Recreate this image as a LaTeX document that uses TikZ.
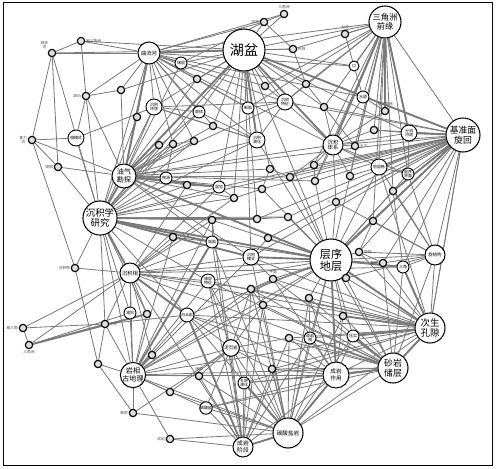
\documentclass[tikz,border=0pt]{standalone}
\usepackage{fontspec}
\setmainfont{Noto Sans CJK SC}
\usepackage{tikz}
\usetikzlibrary{positioning,backgrounds}

\tikzset{
  link/.style={draw=black!52, line width=0.7pt},
  blink/.style={draw=black!52, line width=1.6pt},
  hub/.style={circle, draw=black, fill=white, line width=0.9pt, inner sep=0pt, align=center},
  midnode/.style={circle, draw=black, fill=white, line width=0.8pt, inner sep=0pt, align=center,
    font=\fontsize{3.4}{3.8}\selectfont},
  dot/.style={circle, draw=black, fill=black!12, line width=1pt, inner sep=0pt, minimum size=0.22cm},
  lbl/.style={font=\fontsize{3.2}{3.6}\selectfont, inner sep=0.5pt, align=center, text=black!70}
}

\begin{document}
\begin{tikzpicture}[x=0.03cm, y=-0.03cm]
    \useasboundingbox (0,0) rectangle (496,469);
    \draw[line width=0.7pt] (3,2) rectangle (492,465);

    % large nodes
    \node[hub, minimum size=1.26cm, font=\fontsize{12}{13}\selectfont] (hp) at (244,50) {湖盆};
    \node[hub, minimum size=0.96cm, font=\fontsize{7}{8}\selectfont] (sjz) at (385,22) {三角洲\\前缘};
    \node[hub, minimum size=1.02cm, font=\fontsize{7.5}{8.5}\selectfont] (jzm) at (463,135) {基准面\\旋回};
    \node[hub, minimum size=1.02cm, font=\fontsize{8}{9}\selectfont] (cjx) at (100,218) {沉积学\\研究};
    \node[hub, minimum size=1.26cm, font=\fontsize{9.5}{10.5}\selectfont] (cxdc) at (331,260) {层序\\地层};
    \node[hub, minimum size=0.9cm, font=\fontsize{8}{9}\selectfont] (csks) at (430,328) {次生\\孔隙};
    \node[hub, minimum size=0.9cm, font=\fontsize{7.5}{8.5}\selectfont] (syc) at (393,368) {砂岩\\储层};
    \node[hub, minimum size=0.9cm, font=\fontsize{4.8}{5.5}\selectfont] (tsy) at (288,433) {碳酸盐岩};
    \node[hub, minimum size=0.78cm, font=\fontsize{4.8}{5.5}\selectfont] (cyzy) at (336,375) {成岩\\作用};
    \node[hub, minimum size=0.6cm, font=\fontsize{5}{5.6}\selectfont] (cyjd) at (243,447) {成岩\\阶段};
    \node[hub, minimum size=0.72cm, font=\fontsize{6}{6.8}\selectfont] (yqkt) at (124,176) {油气\\勘探};
    \node[hub, minimum size=0.66cm, font=\fontsize{4.5}{5}\selectfont] (qlh) at (149,53) {曲流河};
    \node[hub, minimum size=0.66cm, font=\fontsize{6}{6.4}\selectfont] (yxgd) at (133,375) {岩相\\古地理};
    \node[hub, minimum size=0.6cm, font=\fontsize{4.5}{5}\selectfont] (cjxg) at (130,273) {沉积相};
    \node[hub, minimum size=0.6cm, font=\fontsize{3.8}{4.2}\selectfont] (xjg) at (435,255) {旋结构};
    \node[hub, minimum size=0.6cm, font=\fontsize{4.5}{5}\selectfont] (cjtx) at (333,145) {沉积\\体系};
    \node[hub, minimum size=0.5cm, font=\fontsize{3.8}{4.2}\selectfont] (nyy) at (231,348) {泥页岩};

    % middle nodes
    \foreach \n/\x/\y/\r/\txt in {m1/154/107/8/{沉积\\环境}, m2/76/138/8/{相模式}, m3/285/102/8/{沉积\\特征},
        m4/257/140/8/{沉积\\演化}, m5/409/133/8/{分流\\河道}, m6/379/167/8/{地层格}, m7/251/257/8/{沉积\\模式},
        m8/208/281/7/{储层\\特征}, m9/187/315/7/{白云岩}, m10/181/63/6/{储层}, m11/199/112/6/{扇体},
        m12/248/108/6/{断陷}, m13/219/187/6/{盆地}, m14/212/242/6/{坳陷}, m15/166/178/6/{物源},
        m16/408/174/6/{层序\\界面}, m17/403/267/6/{三角}, m18/244/383/6/{孔隙\\演化}, m19/206/408/6/{碳酸盐},
        m20/310/338/6/{成岩\\相}, m21/354/66/5/{口}, m22/363/97/6/{水道}, m23/353/336/6/{压实}, m24/130/313/6/{滩坝}}
        \node[midnode, minimum size=\r*0.06cm] (\n) at (\x,\y) {\txt};

    % small nodes
    \foreach \n/\x/\y/\pos/\txt in {p1/81/41/right/{扇三角洲}, p2/52/53/above left/{辫状\\河}, p3/86/96/left/{湖泊},
        p4/121/90/right/{}, p5/137/117/right/{}, p6/32/140/left/{重力\\流}, p7/159/145/right/{},
        p8/284/14/above/{三角洲}, p9/264/22/left/{河流}, p10/293/49/right/{砂体}, p11/197/79/right/{},
        p12/265/86/right/{}, p13/306/84/right/{}, p14/324/107/right/{}, p15/213/126/right/{},
        p16/194/141/right/{}, p17/173/144/right/{}, p18/345/34/above/{分流}, p19/385/111/above/{前三角洲},
        p20/374/130/right/{}, p21/355/146/right/{水下}, p22/58/167/left/{湖相}, p23/187/185/right/{},
        p24/234/198/right/{}, p25/262/189/right/{}, p26/270/169/right/{}, p27/290/177/right/{},
        p28/314/165/right/{}, p29/315/181/right/{}, p30/212/220/right/{}, p31/257/219/right/{},
        p32/288/217/right/{}, p33/173/237/right/{}, p34/268/238/right/{}, p35/273/279/above/{平面},
        p36/251/289/right/{}, p37/309/298/right/{}, p38/263/305/right/{}, p39/350/176/right/{},
        p40/393/191/right/{}, p41/336/202/left/{三}, p42/373/221/right/{}, p43/359/252/right/{旋回},
        p44/383/263/left/{准层}, p45/346/278/right/{}, p46/75/268/left/{沉积物}, p47/23/328/left/{扇三角},
        p48/29/345/below/{三角洲}, p49/105/324/right/{沉积}, p50/147/314/right/{}, p51/98/364/left/{},
        p52/152/355/right/{}, p53/133/413/left/{致密}, p54/170/439/left/{成岩}, p55/170/392/right/{},
        p56/289/338/right/{}, p57/199/376/above/{储层}, p58/272/369/right/{}, p59/343/316/right/{}}
        \node[dot, label={[lbl]\pos:\txt}] (\n) at (\x,\y) {};

    \begin{pgfonlayer}{background}
        % links of the large nodes
        \foreach \h/\lst in {
            hp/{qlh,p9,p8,p10,m10,p11,p12,m3,m12,m11,m4,p15,cjtx,m5,sjz,yqkt,cjx,p26,m13,p24,cxdc,m7,p31,p1,p2,m1,p4,m21,p13,p14},
            sjz/{p18,m21,m22,p19,p20,m5,p14,p13,m3,p21,p39,m6,p40,p28,m16,jzm,p10,m12,qlh,p12,p29,cxdc,p42},
            jzm/{m5,m16,m6,p40,p42,p43,p44,m17,cjtx,p28,p29,m3,p14,p20,p41,hp,p27,m13,yqkt,p25,p31,m7,p34,p32,csks},
            cjx/{p22,p46,m2,p7,m15,p23,m13,p24,p30,m14,p33,m7,p31,p32,jzm,m4,p16,p17,m1,m11,p5,p3,yxgd,m24,p49,p50,m9,p2,qlh,m8},
            cxdc/{p43,p44,p45,m17,xjg,p41,p42,m6,p40,m16,p37,p35,p38,m20,cyzy,syc,m7,p34,m14,p32,p29,m8,p36,p59,m23,tsy,m9,yxgd,p30,cjxg,m4,p25,p27},
            csks/{xjg,m17,p44,p43,cyzy,m20,p45,p37,p56,m18,p58,tsy,m8,p36,m7,m9,yxgd,jzm,m6,p38,p35,cjxg},
            syc/{m23,p59,m20,tsy,p56,m18,p58,m17,xjg,p45,p37,m8,p38,m9,yxgd,p36,p44,cjxg,m19,p35},
            tsy/{m18,m19,p57,p58,m20,cyzy,m9,nyy,p55,yxgd,p38,p36,m8,p56,m23,p59,m14,m7,p37,p53,p54},
            cyzy/{m20,p56,p58,m18,m23,p59,cyjd,m19,nyy,p37,m9,yxgd,p35},
            cyjd/{m18,nyy,m19,p54,p57,m9,m8,p36,p38,p56,m20,p58,cjxg,m14,p30},
            yqkt/{p22,m15,p23,p7,m1,p5,p4,qlh,m11,m10,p11,m4,p15,p16,p17,m13,p24,m14,m7,p26,p25,p27,cjtx,p29,m3,p3,p6},
            qlh/{p1,p2,p4,m10,p11,m1,p5,p3,m11,m12,p12,p9,p8,p10,m3,p15,m4,cjtx,m21,p16,p17,m22},
            yxgd/{p52,p55,m24,p50,p49,p51,p53,m9,p57,nyy,m19,m8,m14,p33,p30,m7,p36,p35,p54,p38},
            cjxg/{m24,p49,p46,m9,p33,m14,p30,m8,p36,m7,yxgd,p50,p52,p47,p48,m13,p23,p24,m17},
            xjg/{m17,p43,p44,p42,jzm,m16,p40,p45,p41,m6},
            cjtx/{p21,p20,p19,m6,p39,p28,p29,m16,p41,p14,m3,m22,m5,p27},
            nyy/{m19,m18,p57,p58,p56,m8,p36,p38,m9,p55,p53}}
            \foreach \b in \lst
                \draw[link] (\h) -- (\b);
        % links between the smaller nodes
        \foreach \a/\b in {p47/p48, p47/p49, p48/p49, p48/m24, p49/p51, p51/p53, p46/p6, p6/p22, p6/p2,
            p2/p1, p1/p3, p22/p2, p3/p4, m1/m11, m1/p15, m1/m4, m1/m3, m10/p9, p11/m12, p12/m3, m12/m3,
            m11/m4, p15/m4, m4/m3, p16/p17, p17/m15, m15/p23, p23/m13, m13/p24, p24/p25, p25/p26, p26/p27,
            p27/p28, p28/p29, p30/m14, m14/p33, p31/p32, p34/m7, m7/p35, p35/p36, p36/p38, p37/m20, p39/m6,
            m6/m16, m16/m5, m5/p20, p40/m17, p42/p43, p43/p44, m21/m22, m22/p19, p18/m21, p8/p9, p9/p10,
            p10/p13, m3/p13, p14/p21, p13/p14, m2/p3, m2/p6, m2/m1, p46/p51, p49/m9}
            \draw[link] (\a) -- (\b);
        % heavy links
        \foreach \a/\b in {cjx/yqkt, cjx/cjxg, cjx/cxdc, cjx/m7, hp/qlh, hp/jzm, sjz/cjtx, sjz/m5,
            jzm/cxdc, cxdc/csks, csks/syc, cyzy/syc, tsy/cyjd, yqkt/cxdc, yxgd/m14, cjxg/m9, p48/p50,
            csks/m23, csks/p59, syc/m23, cxdc/m17, yqkt/hp, cyzy/tsy, qlh/yqkt, hp/m4, sjz/p19, jzm/m5,
            jzm/p40, jzm/m6, cxdc/m7, cxdc/p42, csks/m17, syc/m20, tsy/m18, cyjd/m9, yxgd/p52, yqkt/m13,
            cjx/m14, cjx/p31, hp/cjtx, cxdc/cyzy}
            \draw[blink] (\a) -- (\b);
    \end{pgfonlayer}
\end{tikzpicture}
\end{document}
